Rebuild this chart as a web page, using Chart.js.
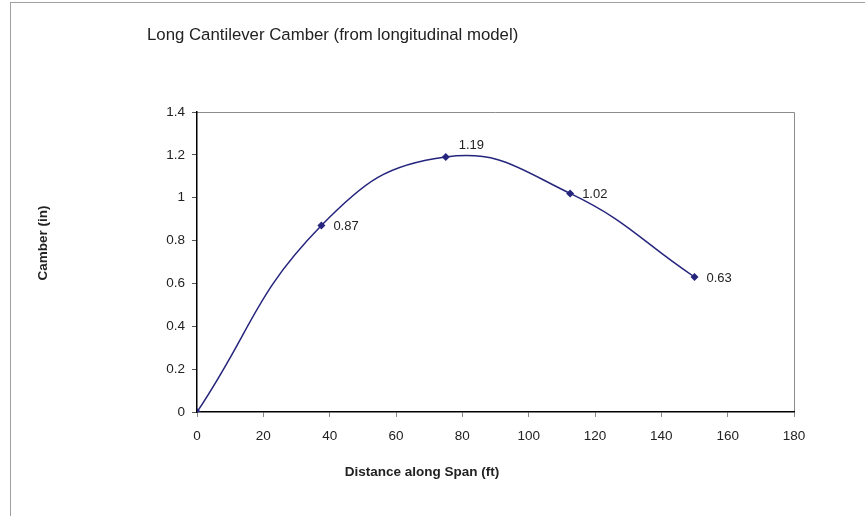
<!DOCTYPE html>
<html>
<head>
<meta charset="utf-8">
<script src="https://cdn.jsdelivr.net/npm/chart.js@4/dist/chart.umd.min.js"></script>
<style>
    html, body { margin: 0; padding: 0; background: #fff; }
    #wrap { position: relative; width: 865px; height: 516px; overflow: hidden; }
    #frame { position: absolute; left: 10px; top: 2px; width: 900px; height: 600px; border: 1px solid #a0a0a0; box-sizing: border-box; }
    canvas { position: absolute; left: 0; top: 0; }
</style>
</head>
<body>
<div id="wrap">
    <div id="frame"></div>
    <canvas id="camber-chart" width="865" height="516"></canvas>
</div>
<script>
// Chart data
const spanDistance = [0, 37.5, 75, 112.5, 150];
const camberValues = [0, 0.87, 1.19, 1.02, 0.63];
const pointLabels = ['', '0.87', '1.19', '1.02', '0.63'];

const chartTitle = 'Long Cantilever Camber (from longitudinal model)';
const xAxisTitle = 'Distance along Span (ft)';
const yAxisTitle = 'Camber (in)';

const textColor = '#222222';
const lineColor = '#25257d';
const fontFamily = '"Liberation Sans", Arial, sans-serif';

// Draws gray top/right border of the plot, titles and point labels
const decorPlugin = {
    id: 'decor',
    beforeDraw(chart) {
        const { ctx, chartArea } = chart;
        ctx.save();
        ctx.strokeStyle = '#8c8c8c';
        ctx.lineWidth = 1;
        ctx.beginPath();
        ctx.moveTo(chartArea.left, chartArea.top + 0.5);
        ctx.lineTo(chartArea.right + 0.5, chartArea.top + 0.5);
        ctx.lineTo(chartArea.right + 0.5, chartArea.bottom);
        ctx.stroke();
        ctx.restore();
    },
    afterDraw(chart) {
        const { ctx, chartArea } = chart;
        ctx.save();
        ctx.fillStyle = textColor;

        // Main title
        ctx.font = '16.8px ' + fontFamily;
        ctx.textAlign = 'left';
        ctx.textBaseline = 'middle';
        ctx.fillText(chartTitle, 147, 35);

        // Axis titles
        ctx.font = 'bold 13.5px ' + fontFamily;
        ctx.textAlign = 'center';
        ctx.fillText(xAxisTitle, chartArea.left + 225, chartArea.bottom + 60);
        ctx.save();
        ctx.translate(43, chartArea.top + 131);
        ctx.rotate(-Math.PI / 2);
        ctx.fillText(yAxisTitle, 0, 0);
        ctx.restore();

        // Point labels
        ctx.font = '13px ' + fontFamily;
        ctx.textAlign = 'left';
        const meta = chart.getDatasetMeta(0);
        meta.data.forEach((pt, i) => {
            if (!pointLabels[i]) return;
            const above = camberValues[i] === Math.max(...camberValues);
            const dx = above ? 13 : 12;
            const dy = above ? -12 : 1;
            ctx.fillText(pointLabels[i], pt.x + dx, pt.y + dy);
        });
        ctx.restore();
    }
};

function initChart() {
    try {
        const ctx = document.getElementById('camber-chart').getContext('2d');
        new Chart(ctx, {
            type: 'line',
            data: {
                datasets: [{
                    label: 'Camber',
                    data: spanDistance.map((x, i) => ({ x: x, y: camberValues[i] })),
                    borderColor: lineColor,
                    backgroundColor: lineColor,
                    borderWidth: 1.5,
                    tension: 0.45,
                    pointStyle: 'rectRot',
                    pointRadius: 4,
                    pointBorderWidth: 0,
                    fill: false
                }]
            },
            options: {
                responsive: false,
                animation: false,
                layout: {
                    padding: { left: 0, top: 112, right: 71, bottom: 0 }
                },
                plugins: {
                    legend: { display: false },
                    tooltip: { enabled: false }
                },
                scales: {
                    x: {
                        type: 'linear',
                        min: 0,
                        max: 180,
                        afterFit(scale) { scale.height = 104; },
                        border: { color: '#000', width: 1.5 },
                        grid: { drawOnChartArea: false, tickLength: 5, color: '#888' },
                        ticks: {
                            stepSize: 20,
                            padding: 11,
                            color: textColor,
                            font: { family: fontFamily, size: 13.5 }
                        }
                    },
                    y: {
                        min: 0,
                        max: 1.4,
                        afterFit(scale) { scale.width = 197; },
                        border: { color: '#000', width: 1.5 },
                        grid: { drawOnChartArea: false, tickLength: 5, color: '#555' },
                        ticks: {
                            stepSize: 0.2,
                            padding: 7,
                            color: textColor,
                            font: { family: fontFamily, size: 13.5 },
                            callback: function(value) {
                                return String(Math.round(value * 10) / 10);
                            }
                        }
                    }
                }
            },
            plugins: [decorPlugin]
        });
    } catch (error) {
        console.error('Error initializing chart:', error);
    }
}

initChart();
</script>
</body>
</html>
